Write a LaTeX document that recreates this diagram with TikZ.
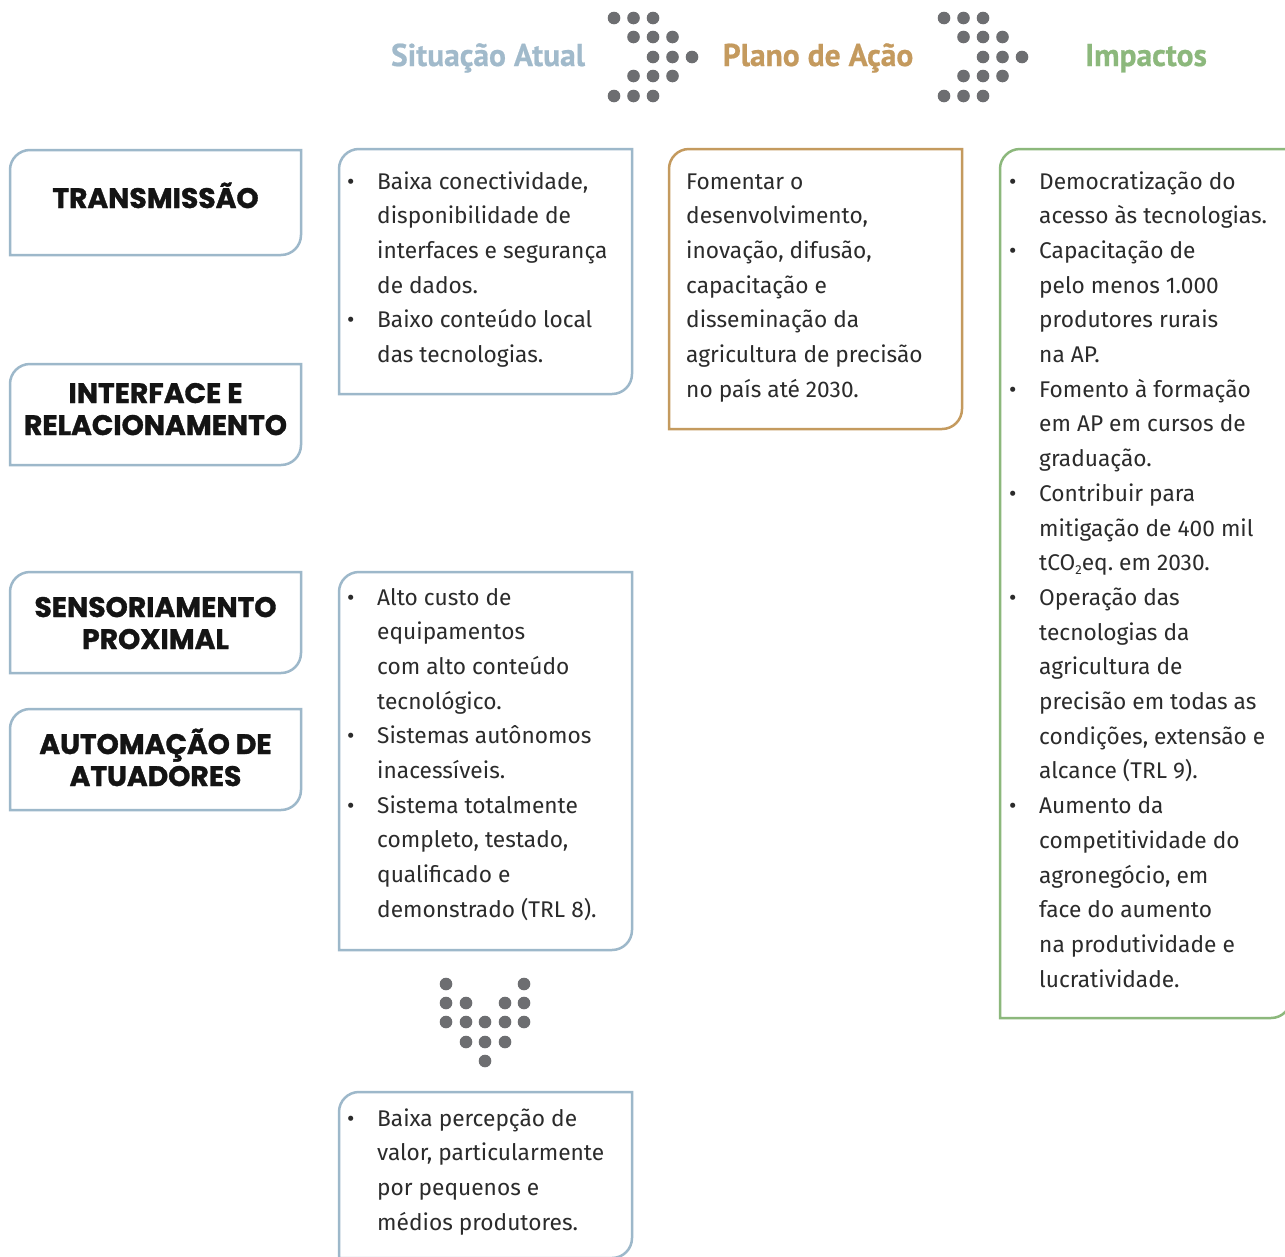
\documentclass[tikz,border=0pt]{standalone}
\usepackage{fontspec}
\setmainfont{Fira Sans}
\newfontfamily\hdfont{PT Sans}[BoldFeatures={FakeBold=0.6}]
\newfontfamily\ttlfont{Poppins}[BoldFeatures={FakeBold=1.2}]
\definecolor{blueb}{HTML}{9DB8CA}
\definecolor{bluet}{HTML}{A1BACB}
\definecolor{tanb}{HTML}{C49A5E}
\definecolor{greenb}{HTML}{8CB87C}
\definecolor{dotg}{HTML}{6D6E71}
\definecolor{txt}{HTML}{2B2B2B}
\frenchspacing
\tikzset{
  frame/.style={line width=2.5pt},
  hdr/.style={anchor=base, inner sep=0pt, font=\hdfont\bfseries\fontsize{31.5}{34}\selectfont},
  ttl/.style={anchor=base, inner sep=0pt, font=\ttlfont\bfseries\fontsize{28.2}{32}\selectfont, text=black!92},
  body/.style={anchor=base west, inner sep=0pt, font=\fontsize{22.7}{34.7}\selectfont, text=txt},
  dotc/.style={fill=dotg},
}
\newcommand\rbox[5]{\draw[frame,#5] (#1,#4) -- (#1,#2+20) arc[start angle=180,end angle=90,radius=20pt] -- (#3,#2) -- (#3,#4-20) arc[start angle=0,end angle=-90,radius=20pt] -- cycle;}
\newcommand\bu{\makebox[30pt][l]{\textbullet}}
\newcommand\ct{\hspace*{30pt}}
\newcommand\subtwo{\raisebox{-4pt}{\fontsize{13}{13}\selectfont 2}}
\newcommand\dotrow[3]{\foreach \xx in {#1} {\fill[dotc] (\xx,#2) circle[radius=#3pt];}}
\begin{document}
\begin{tikzpicture}[x=1pt,y=-1pt]
\useasboundingbox[fill=white] (0,0) rectangle (1285,1256);

% headers
\node[hdr, text=bluet] (h1) at (488,66) {Situação Atual};
\node[hdr, text=tanb] (h2) at (818,66) {Plano de Ação};
\node[hdr, text=greenb] (h3) at (1146,66) {Impactos};

% header chevrons
\foreach \dx in {0,330} {
  \foreach \xa/\yy in {0/18,19.5/37,39/57,19.5/76,0/96} {
    \foreach \k in {0,1,2} {
      \fill[dotc] (614+\dx+\xa+19.5*\k,\yy) circle[radius=6.3pt];
    }
  }
}

% down chevron
\dotrow{446,524}{984}{6.3}
\dotrow{446,466,505,524}{1003}{6.3}
\dotrow{446,466,485,505,524}{1022}{6.3}
\dotrow{466,485,505}{1042}{6.3}
\dotrow{485}{1061}{6.3}

% left title boxes
\rbox{10}{150}{301}{255}{blueb}
\rbox{10}{364}{301}{465}{blueb}
\rbox{10}{572}{301}{673}{blueb}
\rbox{10}{709}{301}{810}{blueb}
\node[ttl] (t1) at (155.5,208) {TRANSMISSÃO};
\node[ttl] (t2) at (155.5,403) {\begin{tabular}[t]{@{}c@{}}INTERFACE E\\RELACIONAMENTO\end{tabular}};
\node[ttl] (t3) at (155.5,617) {\begin{tabular}[t]{@{}c@{}}SENSORIAMENTO\\PROXIMAL\end{tabular}};
\node[ttl] (t4) at (155.5,754) {\begin{tabular}[t]{@{}c@{}}AUTOMAÇÃO DE\\ATUADORES\end{tabular}};

% situação atual boxes
\rbox{339}{149}{632}{394}{blueb}
\rbox{339}{572}{632}{950}{blueb}
\rbox{339}{1092}{632}{1258}{blueb}
\node[body] (s1) at (347,189) {\begin{tabular}[t]{@{}l@{}}
\bu Baixa conectividade,\\
\ct disponibilidade de\\
\ct interfaces e segurança\\
\ct de dados.\\
\bu Baixo conteúdo local\\
\ct das tecnologias.
\end{tabular}};
\node[body] (s2) at (347,605) {\begin{tabular}[t]{@{}l@{}}
\bu Alto custo de\\
\ct equipamentos\\
\ct com alto conteúdo\\
\ct tecnológico.\\
\bu Sistemas autônomos\\
\ct inacessíveis.\\
\bu Sistema totalmente\\
\ct completo, testado,\\
\ct qualificado e\\
\ct demonstrado (TRL 8).
\end{tabular}};
\node[body] (s3) at (347,1126) {\begin{tabular}[t]{@{}l@{}}
\bu Baixa percepção de\\
\ct valor, particularmente\\
\ct por pequenos e\\
\ct médios produtores.
\end{tabular}};

% plano de ação
\rbox{669}{149}{962}{429}{tanb}
\node[body] (p1) at (686,189) {\begin{tabular}[t]{@{}l@{}}
Fomentar o\\
desenvolvimento,\\
inovação, difusão,\\
capacitação e\\
disseminação da\\
agricultura de precisão\\
no país até 2030.
\end{tabular}};

% impactos
\rbox{1000}{149}{1291}{1018}{greenb}
\node[body] (i1) at (1009,189) {\begin{tabular}[t]{@{}l@{}}
\bu Democratização do\\
\ct acesso às tecnologias.\\
\bu Capacitação de\\
\ct pelo menos 1.000\\
\ct produtores rurais\\
\ct na AP.\\
\bu Fomento à formação\\
\ct em AP em cursos de\\
\ct graduação.\\
\bu Contribuir para\\
\ct mitigação de 400 mil\\
\ct tCO\subtwo eq. em 2030.\\
\bu Operação das\\
\ct tecnologias da\\
\ct agricultura de\\
\ct precisão em todas as\\
\ct condições, extensão e\\
\ct alcance (TRL 9).\\
\bu Aumento da\\
\ct competitividade do\\
\ct agronegócio, em\\
\ct face do aumento\\
\ct na produtividade e\\
\ct lucratividade.
\end{tabular}};
\end{tikzpicture}
\end{document}
